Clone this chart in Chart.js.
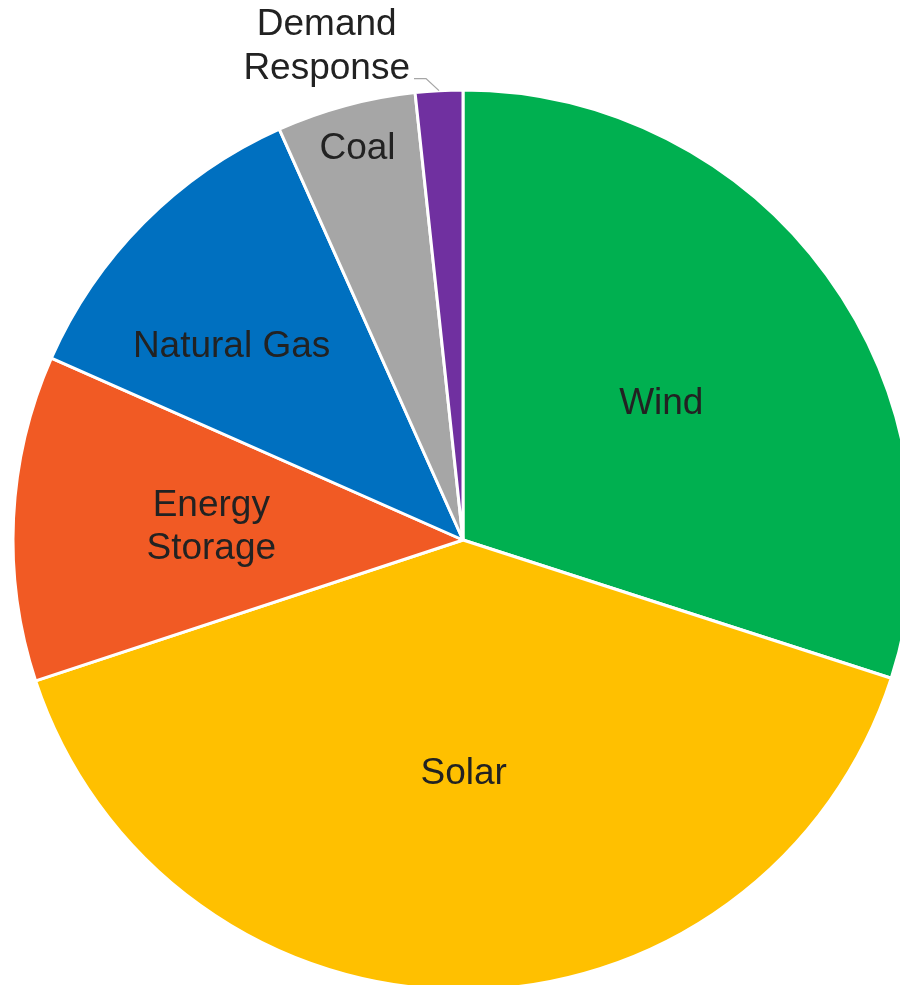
<!DOCTYPE html>
<html>
<head>
<meta charset="utf-8">
<script src="https://cdn.jsdelivr.net/npm/chart.js@4.4.1/dist/chart.umd.min.js"></script>
<style>
  html, body { margin: 0; padding: 0; background: #fff; overflow: hidden; }
  #wrap { position: absolute; left: 0; top: 0; width: 926px; height: 1080px; }
</style>
</head>
<body>
<div id="wrap"><canvas id="pieChart" width="926" height="1080"></canvas></div>
<script>
const categories = ['Wind', 'Solar', 'Energy Storage', 'Natural Gas', 'Coal', 'Demand Response'];
const shares = [30, 40, 11.7, 11.7, 5, 1.7];
const labelLines = [['Wind'], ['Solar'], ['Energy', 'Storage'], ['Natural Gas'], ['Coal'], ['Demand', 'Response']];
const sliceColors = ['#00b050', '#ffc000', '#f15a24', '#0070c0', '#a6a6a6', '#7030a0'];

// where each label sits: fraction of the radius, small angle nudge (deg), or outside with a leader
const labelPlace = [
    { r: 0.535, da: 1.5 },
    { r: 0.52 },
    { r: 0.56 },
    { r: 0.67, da: -5 },
    { r: 0.9 },
    { outside: true }
];

const pieLabels = {
    id: 'pieLabels',
    afterDatasetsDraw(chart) {
        const ctx = chart.ctx;
        const arcs = chart.getDatasetMeta(0).data;
        ctx.save();
        ctx.font = '37px "Liberation Sans", Arial, sans-serif';
        ctx.fillStyle = '#222222';
        ctx.textAlign = 'center';
        ctx.textBaseline = 'middle';
        const lh = 43;
        arcs.forEach((arc, i) => {
            const p = labelPlace[i];
            const lines = labelLines[i];
            const mid = (arc.startAngle + arc.endAngle) / 2 + (p.da || 0) * Math.PI / 180;
            if (p.outside) {
                const ex = arc.x + Math.cos(mid) * arc.outerRadius;
                const ey = arc.y + Math.sin(mid) * arc.outerRadius;
                const kx = ex - 13, ky = ey - 12;
                const sx = kx - 12, sy = ky;
                ctx.strokeStyle = '#a6a6a6';
                ctx.lineWidth = 1.3;
                ctx.beginPath();
                ctx.moveTo(sx, sy);
                ctx.lineTo(kx, ky);
                ctx.lineTo(ex, ey);
                ctx.stroke();
                const w = Math.max(...lines.map(t => ctx.measureText(t).width));
                const cx = sx - 4 - w / 2;
                lines.forEach((t, j) => {
                    ctx.fillText(t, cx, sy - 10 - (lines.length - 1 - j) * 44);
                });
                return;
            }
            const rr = arc.outerRadius * p.r;
            const x = arc.x + Math.cos(mid) * rr;
            const y = arc.y + Math.sin(mid) * rr;
            const top = y - (lines.length - 1) * lh / 2;
            lines.forEach((t, j) => ctx.fillText(t, x, top + j * lh));
        });
        ctx.restore();
    }
};

const ctx = document.getElementById('pieChart').getContext('2d');

const pieChart = new Chart(ctx, {
    type: 'pie',
    data: {
        labels: categories,
        datasets: [{
            data: shares,
            backgroundColor: sliceColors,
            borderColor: '#ffffff',
            borderWidth: 3
        }]
    },
    options: {
        responsive: false,
        animation: false,
        devicePixelRatio: 1,
        layout: {
            padding: { left: 11.5, right: 11.5, top: 88.5, bottom: 88.5 }
        },
        plugins: {
            legend: { display: false },
            tooltip: { enabled: false }
        }
    },
    plugins: [pieLabels]
});
</script>
</body>
</html>
